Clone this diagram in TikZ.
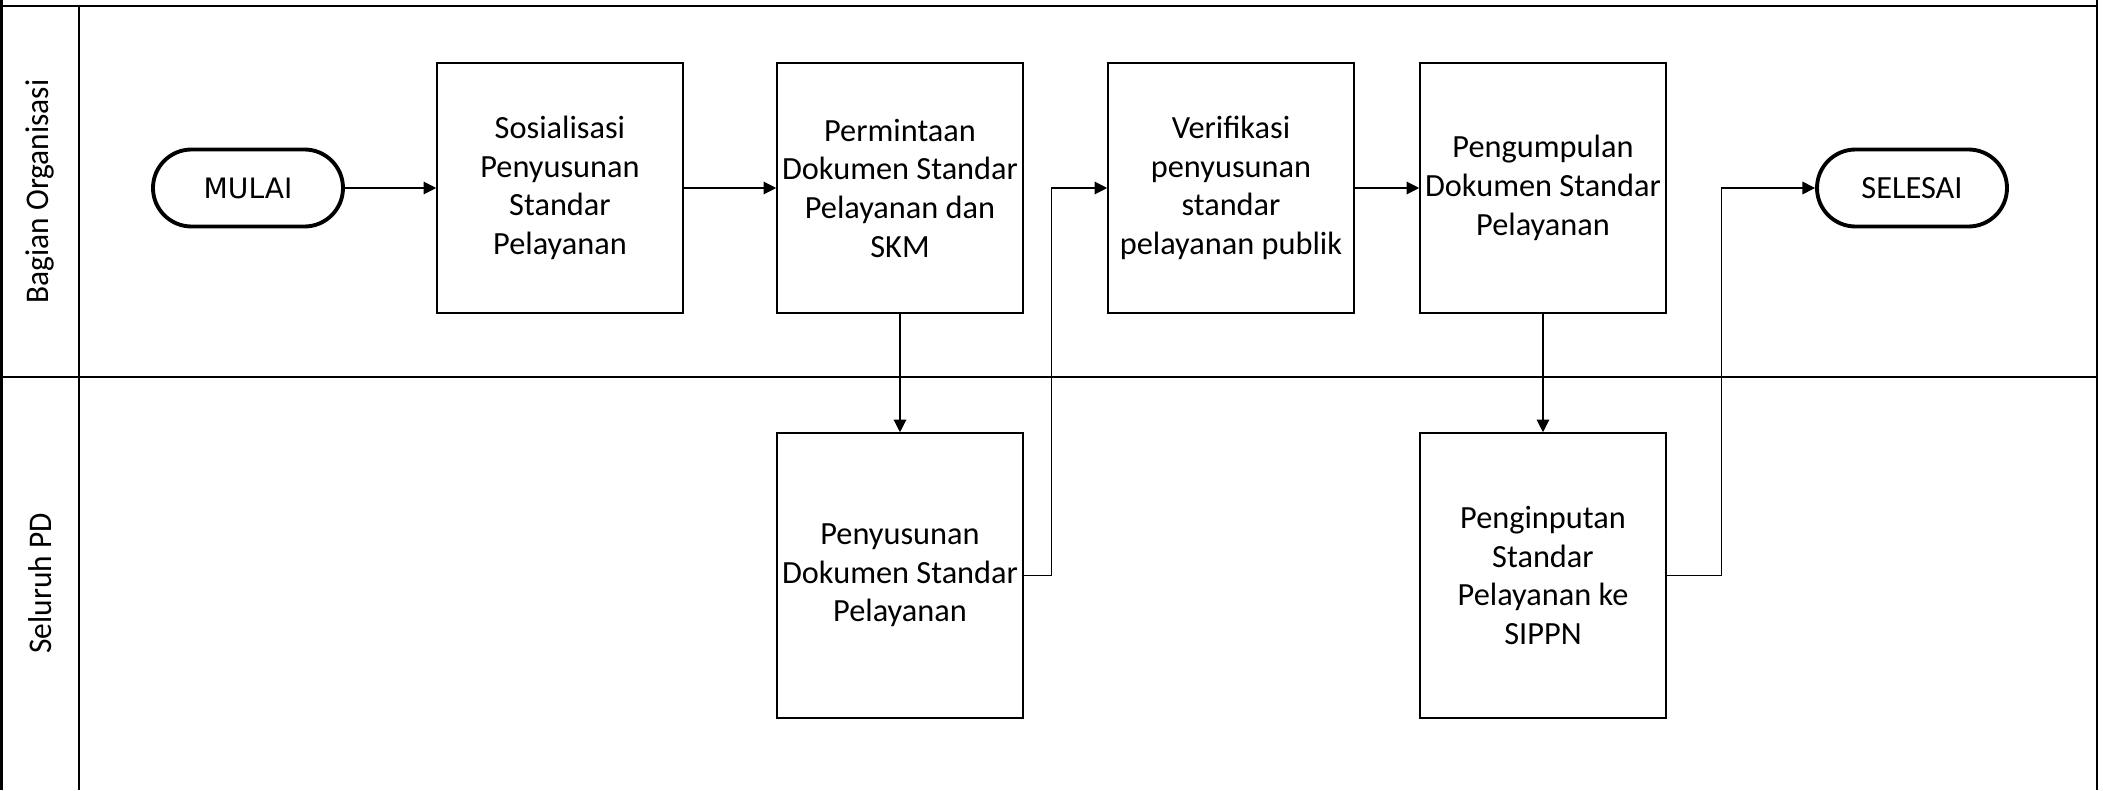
\documentclass[tikz,border=0pt]{standalone}
\usepackage{fontspec}
\setmainfont{Carlito}
\newfontfamily\termfont{DejaVu Sans}
\usepackage{tikz}
\usetikzlibrary{arrows.meta}

\begin{document}
\begin{tikzpicture}[
    proc/.style={draw, line width=0.45pt, minimum width=2.46cm, minimum height=#1, align=center, inner sep=1pt, font=\fontsize{9.2}{11}\selectfont},
    term/.style={draw, line width=1.1pt, rounded corners=0.385cm, minimum width=1.9cm, minimum height=0.77cm, font=\fontsize{9.2}{11}\selectfont},
    lane/.style={line width=0.6pt},
    lanelabel/.style={rotate=90, xscale=0.95, font=\fontsize{9.4}{11}\selectfont},
    arr/.style={-{Triangle[length=3.6pt, width=3.6pt]}, line width=0.35pt}
]
\useasboundingbox (0,0) rectangle (21.03,7.90);
\draw[lane] (0.015,0) -- (0.015,7.90);
\draw[lane] (20.97,0) -- (20.97,7.90);
\draw[lane] (0.015,7.84) -- (20.97,7.84);
\draw[lane] (0.015,4.13) -- (20.97,4.13);
\draw[lane] (0.79,0) -- (0.79,7.84);
\node[lanelabel] (bagian) at (0.40, 5.985) {Bagian Organisasi};
\node[lanelabel] (seluruh) at (0.40, 2.065) {Seluruh PD};

\node[term, font=\termfont\fontsize{8}{10}\selectfont] (mulai) at (2.48, 6.02) {MULAI};
\node[proc=2.50cm] (sosialisasi) at (5.60, 6.02) {Sosialisasi\\Penyusunan\\Standar\\Pelayanan};
\node[proc=2.50cm] (permintaan) at (9.00, 6.02) {Permintaan\\Dokumen Standar\\Pelayanan dan\\SKM};
\node[proc=2.50cm] (verifikasi) at (12.31, 6.02) {Verifikasi\\penyusunan\\standar\\pelayanan publik};
\node[proc=2.50cm] (pengumpulan) at (15.43, 6.02) {Pengumpulan\\Dokumen Standar\\Pelayanan};
\node[term] (selesai) at (19.12, 6.02) {SELESAI};
\node[proc=2.85cm] (penyusunan) at (9.00, 2.145) {Penyusunan\\Dokumen Standar\\Pelayanan};
\node[proc=2.85cm] (penginputan) at (15.43, 2.145) {Penginputan\\Standar\\Pelayanan ke\\SIPPN};

\draw[arr] (mulai) -- (sosialisasi);
\draw[arr] (sosialisasi) -- (permintaan);
\draw[arr] (permintaan) -- (penyusunan);
\draw[arr] (penyusunan.east) -- ++(0.28,0) |- (verifikasi.west);
\draw[arr] (verifikasi) -- (pengumpulan);
\draw[arr] (pengumpulan) -- (penginputan);
\draw[arr] (penginputan.east) -- ++(0.55,0) |- (selesai.west);
\end{tikzpicture}
\end{document}
